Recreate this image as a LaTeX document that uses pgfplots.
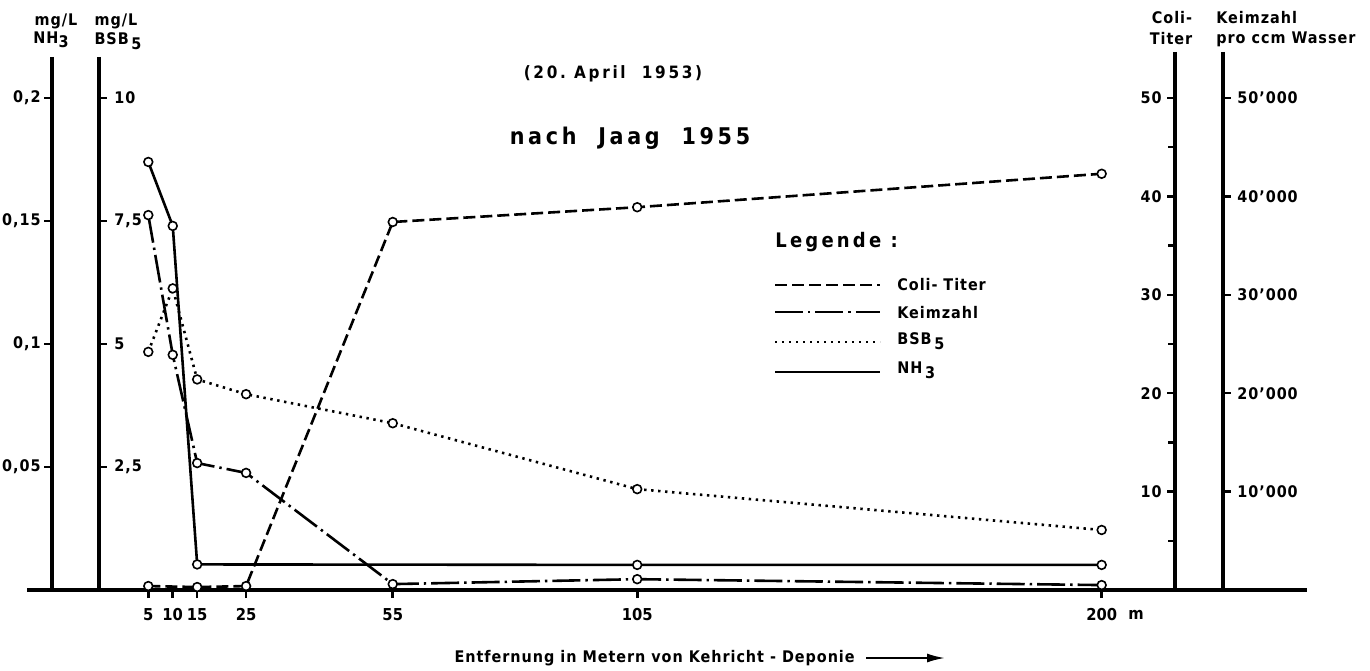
\documentclass[border=0pt]{standalone}
\usepackage{fontspec}
\setmainfont{DejaVu Sans}
\newfontfamily\lnum{DejaVu Sans Condensed}
\newfontfamily\lt{DejaVu Sans Condensed}[LetterSpace=6]
\newfontfamily\ltw{DejaVu Sans Condensed}[LetterSpace=16]
\usepackage{pgfplots}
\usepackage{pgfplotstable}
\pgfplotsset{compat=1.18}
\usetikzlibrary{arrows.meta}
\newcommand\fs[1]{\fontsize{#1}{#1}\selectfont}

% Coli-Titer
\pgfplotstableread{
x v
5 0.4
15 0.3
25 0.4
55 37.4
105 38.9
200 42.3
}\coli
% Keimzahl pro ccm Wasser
\pgfplotstableread{
x v
5 38100
10 23900
15 12900
25 11900
55 600
105 1100
200 500
}\keim
% BSB5 mg/L
\pgfplotstableread{
x v
5 4.84
10 6.13
15 4.28
25 3.98
55 3.39
105 2.05
200 1.22
}\bsb
% NH3 mg/L
\pgfplotstableread{
x v
5 0.174
10 0.148
15 0.0104
105 0.0102
200 0.0102
}\nh

\tikzset{
  colist/.style={line width=1.3pt, dash pattern=on 6pt off 2.5pt},
  keimst/.style={line width=1.3pt, dash pattern=on 14pt off 2.5pt on 1.2pt off 2.5pt},
  bsbst/.style={line width=1.3pt, dash pattern=on 1.2pt off 2.3pt},
  nhst/.style={line width=1.3pt},
  mk/.style={mark=*, mark size=2.2pt, mark options={solid, fill=white, line width=0.8pt}},
}

\begin{document}
\begin{tikzpicture}
\begin{scope}[shift={(-13.5pt,295pt)},x=0.5pt,y=-0.5pt]
\useasboundingbox (0,0) rectangle (1370,670);
\end{scope}

\begin{axis}[at={(0,0)}, anchor=south west, scale only axis,
  width=640pt, height=270.6pt,
  xmin=-19.81, xmax=242.0, ymin=0, ymax=11,
  axis x line*=bottom, axis y line=none,
  x axis line style={line width=2pt, -},
  xtick={5,10,15,25,55,105,200},
  xticklabels={5,10,15,25,55,105,200},
  ytick=\empty,
  tick align=outside, major tick length=4pt,
  tick style={line width=1.3pt, black},
  xticklabel style={font=\lnum\bfseries\fs{8.2}, inner sep=1pt, yshift=-4pt},
  clip=false]
\addplot[colist, mk] table[x=x, y expr=\thisrow{v}/5] {\coli};
\addplot[keimst, mk] table[x=x, y expr=\thisrow{v}/5000] {\keim};
\addplot[bsbst, mk] table[x=x, y=v] {\bsb};
\addplot[nhst, mk] table[x=x, y expr=\thisrow{v}*50] {\nh};
\end{axis}

\begin{scope}[shift={(-13.5pt,295pt)},x=0.5pt,y=-0.5pt, every node/.style={inner sep=0pt, font=\lt\bfseries\fs{8}}]
% vertical axes
\draw[line width=1.7pt] (52,57) -- (52,590);
\draw[line width=1.7pt] (99,57) -- (99,590);
\draw[line width=1.7pt] (1175,52) -- (1175,590);
\draw[line width=1.7pt] (1223,52) -- (1223,590);
% NH3 ticks (left), BSB ticks (right)
\foreach \v/\a/\b in {2.5/0{,}05/2{,}5, 5/0{,}1/5, 7.5/0{,}15/7{,}5, 10/0{,}2/10}{
  \draw[line width=1.2pt] (44,{590-49.2*\v}) -- (52,{590-49.2*\v});
  \draw[line width=1.2pt] (99,{590-49.2*\v}) -- (107,{590-49.2*\v});
  \node[anchor=east] at (41,{590-49.2*\v}) {\a};
  \node[anchor=west] at (114,{590-49.2*\v}) {\b};
}
% Coli ticks (left) and Keimzahl ticks (right)
\foreach \c/\k in {10/10’000, 20/20’000, 30/30’000, 40/40’000, 50/50’000}{
  \draw[line width=1.2pt] (1167,{590-9.84*\c}) -- (1175,{590-9.84*\c});
  \draw[line width=1.2pt] (1223,{590-9.84*\c}) -- (1231,{590-9.84*\c});
  \node[anchor=east] at (1162,{590-9.84*\c}) {\c};
  \node[anchor=west] at (1237,{590-9.84*\c}) {\k};
}
\foreach \c in {5,15,25,35,45}{
  \draw[line width=1.2pt] (1168,{590-9.84*\c}) -- (1175,{590-9.84*\c});
}
% axis headers
\node at (56,21) {mg/L};
\node at (51,40) {NH\raisebox{-0.5ex}{3}};
\node at (116,21) {mg/L};
\node at (118,41) {BSB\,\raisebox{-0.6ex}{5}};
\node at (1172,18) {Coli-};
\node at (1171,39) {Titer};
\node[anchor=west] at (1216,18) {Keimzahl};
\node[anchor=west] at (1216,39) {pro ccm Wasser};
% titles
\node[font=\ltw\bfseries\fs{8.5}] at (613,74) {(20.\ April\ \ 1953)};
\node[font=\ltw\bfseries\fs{11.5}] at (630,138) {nach\ \ Jaag\ \ 1955};
% legend
\node[anchor=west, font=\ltw\bfseries\fs{10}] at (775,242) {Legende :};
\draw[colist] (775,285) -- (880,285);
\draw[keimst] (775,312) -- (880,312);
\draw[bsbst] (775,342) -- (880,342);
\draw[nhst] (775,372) -- (880,372);
\node[anchor=west] at (897,285) {Coli- Titer};
\node[anchor=west] at (897,313) {Keimzahl};
\node[anchor=west] at (897,341) {BSB\,\raisebox{-0.6ex}{5}};
\node[anchor=west] at (897,370) {NH\,\raisebox{-0.6ex}{3}};
% x axis label
\node[font=\lnum\bfseries\fs{8.2}] at (1136,615) {m};
\node[anchor=east, font=\lt\bfseries\fs{8}] at (855,658) {Entfernung in Metern von Kehricht - Deponie};
\draw[line width=1pt, -{Latex[length=9pt,width=4.5pt]}] (866,658) -- (945,658);
\end{scope}
\end{tikzpicture}
\end{document}
